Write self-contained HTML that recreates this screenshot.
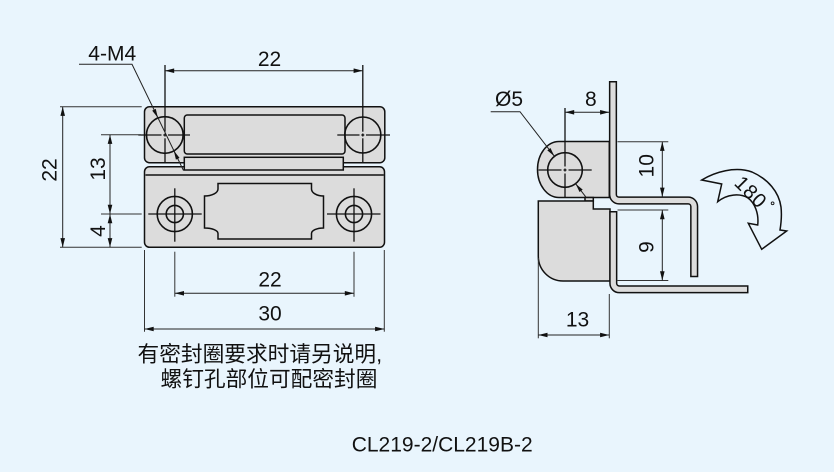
<!DOCTYPE html>
<html><head><meta charset="utf-8">
<style>
html,body{margin:0;padding:0;background:#e9f5fd;}
svg{display:block;}
text{font-family:"Liberation Sans","Noto Sans CJK SC",sans-serif;fill:#111;font-size:21px;}
</style></head><body>
<svg width="834" height="472" viewBox="0 0 834 472" xmlns="http://www.w3.org/2000/svg">
<defs>
<marker id="a" viewBox="0 0 10 5" refX="10" refY="2.5" markerWidth="10" markerHeight="4.6" markerUnits="userSpaceOnUse" orient="auto-start-reverse"><path d="M0,0 L10,2.5 L0,5 Z" fill="#111"/></marker>
</defs>
<rect width="834" height="472" fill="#e9f5fd"/>

<!-- ============ LEFT VIEW ============ -->
<g fill="#dcdcdc" stroke="#111" stroke-width="1.5">
  <rect x="144.5" y="106.7" width="240.3" height="56" rx="5"/>
  <rect x="184.3" y="115" width="160.7" height="39" rx="3"/>
  <rect x="144.5" y="166.7" width="240" height="80.6" rx="5"/>
  <rect x="184.3" y="157.3" width="159" height="12.7"/>
  <path d="M218,183.5 H311.5 V189 A12,7 0 0 0 323.5,196 V228 A12,5.5 0 0 0 311.5,233.5 V239 H218 V233.5 A13.5,5.5 0 0 0 204.5,228 V196 A13.5,7 0 0 0 218,189 Z"/>
</g>
<line x1="145.5" y1="175" x2="383.8" y2="175" stroke="#111" stroke-width="1.4"/>

<!-- holes -->
<g fill="none" stroke="#111" stroke-width="1.6">
  <circle cx="164.8" cy="135" r="18.3"/>
  <circle cx="362.8" cy="135" r="18"/>
  <circle cx="174.8" cy="214" r="17.6"/>
  <circle cx="174.8" cy="214" r="8.6"/>
  <circle cx="354" cy="214" r="17.6"/>
  <circle cx="354" cy="214" r="8.6"/>
</g>
<!-- crosshairs -->
<g stroke="#111" stroke-width="1.3">
  <line x1="138.3" y1="135" x2="161.5" y2="135"/>
  <line x1="163.3" y1="135" x2="166.3" y2="135"/>
  <line x1="168" y1="135" x2="190" y2="135"/>
  <line x1="165" y1="65" x2="165" y2="131.7"/>
  <line x1="165" y1="133.5" x2="165" y2="136.5"/>
  <line x1="165" y1="138.3" x2="165" y2="162"/>
  <line x1="337.3" y1="135" x2="359.5" y2="135"/>
  <line x1="361.3" y1="135" x2="364.3" y2="135"/>
  <line x1="366" y1="135" x2="390" y2="135"/>
  <line x1="362.8" y1="65" x2="362.8" y2="131.7"/>
  <line x1="362.8" y1="133.5" x2="362.8" y2="136.5"/>
  <line x1="362.8" y1="138.3" x2="362.8" y2="162"/>
  <line x1="148.3" y1="214" x2="201.7" y2="214"/>
  <line x1="174.8" y1="188.3" x2="174.8" y2="241.7"/>
  <line x1="327" y1="214" x2="380.5" y2="214"/>
  <line x1="354" y1="188.3" x2="354" y2="241.7"/>
</g>

<!-- extension lines -->
<g stroke="#333" stroke-width="1">
  <line x1="60" y1="106.7" x2="141.7" y2="106.7"/>
  <line x1="60" y1="247.3" x2="141.7" y2="247.3"/>
  <line x1="101" y1="134.7" x2="141" y2="134.7"/>
  <line x1="101" y1="214" x2="141.7" y2="214"/>
  <line x1="174.8" y1="251.7" x2="174.8" y2="296.7"/>
  <line x1="354" y1="251.7" x2="354" y2="296.7"/>
  <line x1="144.5" y1="250" x2="144.5" y2="331.7"/>
  <line x1="384.3" y1="250" x2="384.3" y2="331.7"/>
</g>
<!-- dimension lines -->
<g stroke="#222" stroke-width="1" marker-start="url(#a)" marker-end="url(#a)">
  <line x1="165" y1="70.7" x2="362.8" y2="70.7"/>
  <line x1="62.7" y1="106.7" x2="62.7" y2="247.3"/>
  <line x1="110" y1="134.7" x2="110" y2="214"/>
  <line x1="110" y1="214" x2="110" y2="247.3"/>
  <line x1="174.8" y1="293.3" x2="354" y2="293.3"/>
  <line x1="144.5" y1="329" x2="384.3" y2="329"/>
</g>
<!-- 4-M4 leader -->
<polyline points="79,64.3 132,64.3 183.5,170.5" fill="none" stroke="#222" stroke-width="1"/>
<polygon points="157.9,117.9 152.18,110.67 155.78,108.93" fill="#111"/>
<polygon points="173.8,150.6 179.52,157.83 175.92,159.57" fill="#111"/>

<!-- texts left -->
<text x="88.3" y="60.7">4-M4</text>
<text x="269.5" y="66" text-anchor="middle">22</text>
<text transform="translate(56.7,170) rotate(-90)" text-anchor="middle">22</text>
<text transform="translate(105,169) rotate(-90)" text-anchor="middle">13</text>
<text transform="translate(105,231) rotate(-90)" text-anchor="middle">4</text>
<text x="270" y="286.7" text-anchor="middle">22</text>
<text x="270" y="320.7" text-anchor="middle">30</text>

<text x="137.5" y="361.5" style="font-size:21.7px">有密封圈要求时请另说明,</text>
<text x="160.5" y="386.5" style="font-size:21.7px">螺钉孔部位可配密封圈</text>

<text x="351.7" y="451.7">CL219-2/CL219B-2</text>

<!-- ============ RIGHT VIEW ============ -->
<g fill="#dcdcdc" stroke="#111" stroke-width="1.5">
  <path d="M609.3,141.5 H559 A21.5,28 0 0 0 559,197.5 H609.3 Z"/>
  <rect x="585" y="197.5" width="8.3" height="3.5"/>
  <path d="M538.3,201 H593.3 V209 H610 V281 H563 A24.7,24.7 0 0 1 538.3,256.3 Z"/>
</g>
<!-- leaf strips -->
<path d="M613,81 V194.5 A6,6 0 0 0 619,200.5 H688.2 A6,6 0 0 1 694.2,206.5 V277.2" fill="none" stroke="#111" stroke-width="8.2"/>
<path d="M613,82.5 V194.5 A6,6 0 0 0 619,200.5 H688.2 A6,6 0 0 1 694.2,206.5 V275.7" fill="none" stroke="#dcdcdc" stroke-width="5.2"/>
<path d="M613.3,211 V283.3 A6,6 0 0 0 619.3,289.3 H748.5" fill="none" stroke="#111" stroke-width="8.2"/>
<path d="M613.3,212.5 V283.3 A6,6 0 0 0 619.3,289.3 H747" fill="none" stroke="#dcdcdc" stroke-width="5.2"/>

<!-- hole -->
<circle cx="565" cy="170" r="17.3" fill="none" stroke="#111" stroke-width="1.6"/>
<g stroke="#111" stroke-width="1.3">
  <line x1="538.5" y1="170" x2="561.5" y2="170"/>
  <line x1="563.5" y1="170" x2="566.5" y2="170"/>
  <line x1="568.5" y1="170" x2="591.7" y2="170"/>
  <line x1="565" y1="108" x2="565" y2="166.5"/>
  <line x1="565" y1="168.5" x2="565" y2="171.5"/>
  <line x1="565" y1="173.5" x2="565" y2="197"/>
</g>

<!-- extension lines right -->
<g stroke="#333" stroke-width="1">
  <line x1="617.5" y1="141.7" x2="668.3" y2="141.7"/>
  <line x1="617.5" y1="210" x2="668.3" y2="210"/>
  <line x1="617.5" y1="280.5" x2="668.3" y2="280.5"/>
  <line x1="538.3" y1="258" x2="538.3" y2="338.3"/>
  <line x1="609.3" y1="294" x2="609.3" y2="338.3"/>
</g>
<g stroke="#222" stroke-width="1" marker-start="url(#a)" marker-end="url(#a)">
  <line x1="565" y1="112.3" x2="609.3" y2="112.3"/>
  <line x1="662.3" y1="141.7" x2="662.3" y2="196.8"/>
  <line x1="662.3" y1="210" x2="662.3" y2="280.5"/>
  <line x1="538.3" y1="335" x2="609.3" y2="335"/>
</g>
<!-- Ø5 leader -->
<polyline points="490.7,111.7 520,111.7 554.4,156.3" fill="none" stroke="#222" stroke-width="1"/>
<polygon points="554.4,156.3 547.32,150.39 550.48,147.95" fill="#111"/>
<line x1="575.6" y1="183.7" x2="586" y2="197.2" stroke="#222" stroke-width="1"/>
<polygon points="575.6,183.7 582.68,189.61 579.52,192.05" fill="#111"/>

<!-- texts right -->
<text x="509" y="106" text-anchor="middle">Ø5</text>
<text x="590.8" y="106" text-anchor="middle">8</text>
<text transform="translate(653.3,165.8) rotate(-90)" text-anchor="middle">10</text>
<text transform="translate(653.3,247) rotate(-90)" text-anchor="middle">9</text>
<text x="577.5" y="326.7" text-anchor="middle">13</text>

<!-- rotation arrow -->
<path d="M701.7,180 C715,172 735,166 752,172 C768,179 779,192 781,207 C782,216 781,224 780,230 L786.7,231 L761.7,249.3 L748.3,223.3 L757.7,225 C759,214 755,203 748,198 C740,193 727,194 717.7,201.7 L721.7,184 Z" fill="#e9f5fd" stroke="#111" stroke-width="1.5" stroke-linejoin="miter"/>
<text transform="translate(751,192) rotate(45)" y="7" text-anchor="middle" style="font-size:20px;letter-spacing:1px">180</text>
<circle cx="772.6" cy="203.3" r="1.4" fill="none" stroke="#111" stroke-width="0.9"/>
</svg>
</body></html>
